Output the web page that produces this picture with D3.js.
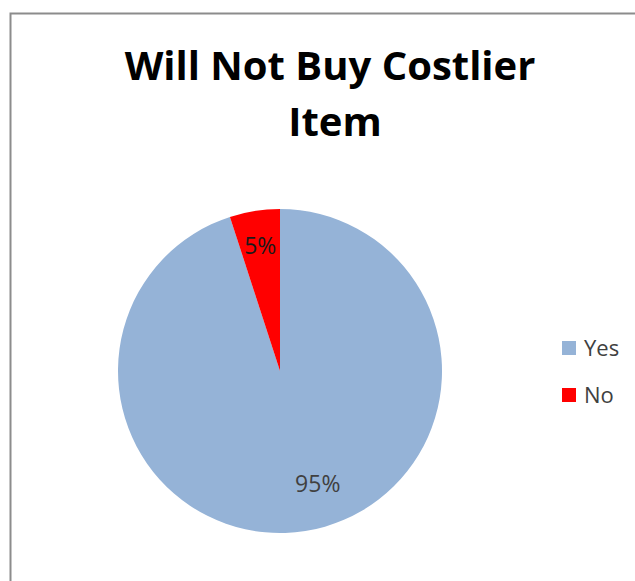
<!DOCTYPE html>
<html>
<head>
<meta charset="utf-8">
<script src="https://d3js.org/d3.v7.min.js"></script>
<style>
  body { margin: 0; background: #fff; }
  text { font-family: "Open Sans", "Liberation Sans", sans-serif; }
</style>
</head>
<body>
<div id="chart"></div>
<script>
var categories = ['Yes', 'No'];
var values = [95, 5];
var colors = ['#95b3d7', '#ff0000'];
var titleLines = ['Will Not Buy Costlier', 'Item'];

var width = 635, height = 581;

var svg = d3.select('#chart').append('svg')
    .attr('width', width)
    .attr('height', height);

// chart frame
svg.append('rect')
    .attr('x', 10.5)
    .attr('y', 13.5)
    .attr('width', 640)
    .attr('height', 600)
    .attr('fill', '#fff')
    .attr('stroke', '#8c8c8c')
    .attr('stroke-width', 2);

svg.selectAll('.title')
    .data(titleLines)
    .enter()
    .append('text')
    .attr('class', 'title')
    .attr('x', (d, i) => i === 0 ? 330 : 335)
    .attr('y', (d, i) => 80 + i * 56)
    .attr('text-anchor', 'middle')
    .style('font-size', '40px')
    .style('font-weight', 'bold')
    .attr('fill', '#000')
    .text(d => d);

var data = categories.map((c, i) => ({ name: c, value: values[i] }));
var total = d3.sum(values);

var color = d3.scaleOrdinal().domain(categories).range(colors);

var radius = 162;
var pie = d3.pie().sort(null).value(d => d.value);
var arc = d3.arc().innerRadius(0).outerRadius(radius);
var labelArc = d3.arc().innerRadius(radius * 0.78).outerRadius(radius * 0.78);

var g = svg.append('g')
    .attr('transform', 'translate(280,371)');

var arcs = pie(data);

g.selectAll('.slice')
    .data(arcs)
    .enter()
    .append('path')
    .attr('class', 'slice')
    .attr('d', arc)
    .attr('fill', d => color(d.data.name));

// big slice label sits a little off its centroid, like Excel's best fit
g.selectAll('.label')
    .data(arcs)
    .enter()
    .append('text')
    .attr('class', 'label')
    .attr('transform', d => {
        var c = labelArc.centroid(d);
        if (d.data.name === 'Yes') { c = [c[0] + 18, c[1] - 12]; }
        return 'translate(' + c + ')';
    })
    .attr('dy', '0.35em')
    .attr('text-anchor', 'middle')
    .style('font-size', '23px')
    .attr('fill', d => d.data.name === 'No' ? '#1a1a1a' : '#404040')
    .text(d => Math.round(d.data.value / total * 100) + '%');

// legend
var legend = svg.selectAll('.legend')
    .data(categories)
    .enter()
    .append('g')
    .attr('class', 'legend')
    .attr('transform', (d, i) => 'translate(562,' + (341 + i * 47) + ')');

legend.append('rect')
    .attr('width', 14)
    .attr('height', 14)
    .attr('fill', d => color(d));

legend.append('text')
    .attr('x', 22)
    .attr('y', 7)
    .attr('dy', '0.35em')
    .style('font-size', '22px')
    .attr('fill', '#404040')
    .text(d => d);
</script>
</body>
</html>
